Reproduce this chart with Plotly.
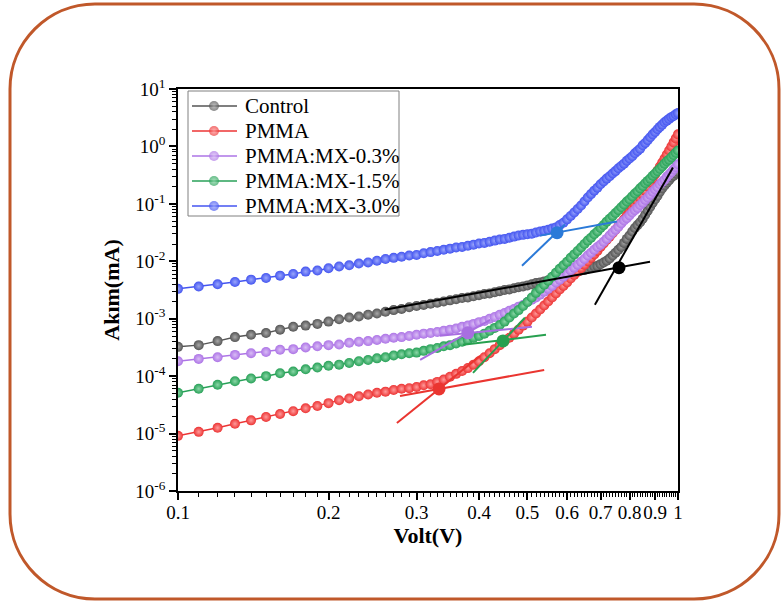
import numpy as np
import plotly.graph_objects as go

# ---------------- data ----------------
voltage = [0.10, 0.11, 0.12, 0.13, 0.14, 0.15, 0.16, 0.17, 0.18, 0.19,
           0.20, 0.21, 0.22, 0.23, 0.24, 0.25, 0.26, 0.27, 0.28, 0.29,
           0.30, 0.31, 0.32, 0.33, 0.34, 0.35, 0.36, 0.37, 0.38, 0.39,
           0.40, 0.41, 0.42, 0.43, 0.44, 0.45, 0.46, 0.47, 0.48, 0.49,
           0.50, 0.51, 0.52, 0.53, 0.54, 0.55, 0.56, 0.57, 0.58, 0.59,
           0.60, 0.61, 0.62, 0.63, 0.64, 0.65, 0.66, 0.67, 0.68, 0.69,
           0.70, 0.71, 0.72, 0.73, 0.74, 0.75, 0.76, 0.77, 0.78, 0.79,
           0.80, 0.81, 0.82, 0.83, 0.84, 0.85, 0.86, 0.87, 0.88, 0.89,
           0.90, 0.91, 0.92, 0.93, 0.94, 0.95, 0.96, 0.97, 0.98, 0.99, 1.00]

# log10 of current (mA), one value per voltage step
control_log = [-3.49, -3.46, -3.39, -3.32, -3.28, -3.25, -3.19, -3.14, -3.12, -3.09, -3.05,
               -3.01, -2.98, -2.96, -2.93, -2.91, -2.88, -2.85, -2.83, -2.80, -2.78,
               -2.76, -2.74, -2.72, -2.70, -2.68, -2.66, -2.64, -2.63, -2.61, -2.59,
               -2.57, -2.56, -2.54, -2.52, -2.50, -2.49, -2.47, -2.45, -2.44, -2.42,
               -2.40, -2.38, -2.37, -2.35, -2.33, -2.31, -2.30, -2.28, -2.26, -2.24,
               -2.23, -2.21, -2.18, -2.16, -2.15, -2.13, -2.11, -2.09, -2.08, -2.05,
               -2.02, -1.99, -1.95, -1.90, -1.85, -1.80, -1.75, -1.68, -1.61, -1.55,
               -1.48, -1.42, -1.37, -1.32, -1.26, -1.19, -1.12, -1.05, -0.98, -0.92,
               -0.86, -0.79, -0.73, -0.68, -0.63, -0.59, -0.54, -0.51, -0.47, -0.44]

pmma_log = [-5.04, -4.97, -4.90, -4.83, -4.77, -4.71, -4.66, -4.61, -4.56, -4.52, -4.47,
            -4.42, -4.39, -4.35, -4.32, -4.29, -4.27, -4.24, -4.22, -4.21, -4.19,
            -4.16, -4.14, -4.10, -4.06, -4.01, -3.96, -3.91, -3.86, -3.80, -3.74,
            -3.67, -3.60, -3.53, -3.46, -3.39, -3.33, -3.26, -3.19, -3.12, -3.05,
            -2.98, -2.91, -2.84, -2.77, -2.70, -2.63, -2.56, -2.49, -2.43, -2.37,
            -2.30, -2.24, -2.18, -2.12, -2.06, -2.00, -1.94, -1.88, -1.82, -1.75,
            -1.69, -1.63, -1.57, -1.51, -1.45, -1.39, -1.33, -1.27, -1.20, -1.14,
            -1.08, -1.02, -0.96, -0.90, -0.84, -0.77, -0.70, -0.63, -0.56, -0.49,
            -0.42, -0.35, -0.28, -0.21, -0.14, -0.07, 0.00, 0.07, 0.14, 0.21]

mx03_log = [-3.74, -3.70, -3.67, -3.63, -3.60, -3.58, -3.54, -3.53, -3.50, -3.48, -3.46,
            -3.45, -3.42, -3.40, -3.39, -3.37, -3.35, -3.33, -3.32, -3.30, -3.28,
            -3.26, -3.25, -3.23, -3.21, -3.19, -3.17, -3.14, -3.12, -3.09, -3.06,
            -3.04, -3.00, -2.97, -2.93, -2.90, -2.86, -2.83, -2.79, -2.76, -2.71,
            -2.67, -2.63, -2.58, -2.53, -2.48, -2.43, -2.37, -2.32, -2.27, -2.22,
            -2.16, -2.11, -2.06, -2.01, -1.96, -1.90, -1.85, -1.80, -1.75, -1.71,
            -1.66, -1.61, -1.55, -1.50, -1.45, -1.40, -1.34, -1.29, -1.25, -1.20,
            -1.15, -1.11, -1.07, -1.02, -0.98, -0.93, -0.89, -0.84, -0.79, -0.75,
            -0.71, -0.66, -0.62, -0.58, -0.53, -0.49, -0.45, -0.40, -0.36, -0.31]

mx15_log = [-4.29, -4.22, -4.15, -4.09, -4.04, -4.00, -3.95, -3.92, -3.88, -3.85, -3.82,
            -3.80, -3.77, -3.74, -3.72, -3.69, -3.67, -3.64, -3.62, -3.60, -3.59,
            -3.56, -3.53, -3.51, -3.48, -3.46, -3.43, -3.40, -3.37, -3.33, -3.30,
            -3.26, -3.21, -3.16, -3.11, -3.05, -2.98, -2.91, -2.85, -2.78, -2.71,
            -2.63, -2.55, -2.48, -2.41, -2.34, -2.27, -2.20, -2.13, -2.07, -2.01,
            -1.94, -1.88, -1.82, -1.76, -1.70, -1.64, -1.59, -1.53, -1.48, -1.42,
            -1.37, -1.31, -1.26, -1.21, -1.16, -1.11, -1.06, -1.01, -0.96, -0.92,
            -0.87, -0.82, -0.78, -0.73, -0.69, -0.64, -0.60, -0.56, -0.51, -0.47,
            -0.43, -0.39, -0.35, -0.30, -0.26, -0.23, -0.19, -0.15, -0.11, -0.07]

mx30_log = [-2.48, -2.44, -2.40, -2.36, -2.32, -2.29, -2.25, -2.22, -2.18, -2.16, -2.12,
            -2.09, -2.07, -2.04, -2.02, -1.99, -1.96, -1.94, -1.92, -1.90, -1.89,
            -1.86, -1.84, -1.82, -1.80, -1.78, -1.76, -1.75, -1.73, -1.71, -1.69,
            -1.68, -1.66, -1.64, -1.62, -1.61, -1.59, -1.57, -1.55, -1.54, -1.53,
            -1.52, -1.50, -1.48, -1.47, -1.45, -1.43, -1.41, -1.37, -1.33, -1.27,
            -1.21, -1.15, -1.09, -1.03, -0.96, -0.89, -0.83, -0.77, -0.72, -0.66,
            -0.61, -0.56, -0.52, -0.47, -0.43, -0.38, -0.34, -0.30, -0.25, -0.21,
            -0.17, -0.12, -0.08, -0.04, 0.02, 0.06, 0.11, 0.16, 0.21, 0.25,
            0.30, 0.34, 0.38, 0.42, 0.45, 0.48, 0.51, 0.53, 0.56, 0.58]

series_names = ["Control", "PMMA", "PMMA:MX-0.3%", "PMMA:MX-1.5%", "PMMA:MX-3.0%"]

# tangent-line fits: [V_start, V_end], [log I_start, log I_end]; knee point (V, log I)
fit_low_v = [[0.259, 0.879], [0.278, 0.540], [0.334, 0.5105], [0.3715, 0.5445], [0.530, 0.755]]
fit_low_log = [[-2.845, -2.007], [-4.346, -3.892], [-3.298, -3.141], [-3.455, -3.281], [-1.553, -1.309]]
fit_high_v = [[0.682, 0.977], [0.274, 0.402], [0.305, 0.421], [0.389, 0.494], [0.4875, 0.594]]
fit_high_log = [[-2.757, -0.366], [-4.817, -3.647], [-3.717, -3.019], [-3.944, -2.984], [-2.077, -1.361]]
knee_v = [0.762, 0.3327, 0.380, 0.4467, 0.573]
knee_log = [-2.112, -4.223, -3.246, -3.386, -1.501]

x_tick_vals = [0.1, 0.2, 0.3, 0.4, 0.5, 0.6, 0.7, 0.8, 0.9, 1.0]
x_tick_text = ["0.1", "0.2", "0.3", "0.4", "0.5", "0.6", "0.7", "0.8", "0.9", "1"]
y_tick_exp = [-6, -5, -4, -3, -2, -1, 0, 1]

# ---------------- styling ----------------
marker_colors = ["#555555", "#ec3434", "#ad74e6", "#28a158", "#4455f0"]
highlight_colors = ["#a8a8a8", "#ff9a9a", "#d9bdf5", "#8ad6a6", "#9aa6fb"]
fit_colors = ["#000000", "#ea3530", "#a86ee0", "#27a04f", "#2b7ad8"]
FONT = "Liberation Serif"

W, H = 782, 606
L, R, T, B = 178, 104, 89, 115
PW, PH = W - L - R, H - T - B


def px2paper(px, py):
    return (px - L) / PW, (H - B - py) / PH


fig = go.Figure()

all_logs = [control_log, pmma_log, mx03_log, mx15_log, mx30_log]
for name, logs, col, hl in zip(series_names, all_logs, marker_colors, highlight_colors):
    fig.add_trace(go.Scatter(
        x=voltage, y=np.power(10.0, np.array(logs)), mode="lines+markers", name=name,
        showlegend=False,
        line=dict(color=col, width=1.5),
        marker=dict(size=10, color=col, gradient=dict(type="radial", color=hl),
                    line=dict(width=0)),
    ))

for i in range(len(series_names)):
    for vs, ls in ((fit_low_v[i], fit_low_log[i]), (fit_high_v[i], fit_high_log[i])):
        fig.add_trace(go.Scatter(
            x=vs, y=np.power(10.0, np.array(ls)), mode="lines", showlegend=False,
            line=dict(color=fit_colors[i], width=2), hoverinfo="skip"))
    fig.add_trace(go.Scatter(
        x=[knee_v[i]], y=[10.0 ** knee_log[i]], mode="markers", showlegend=False,
        marker=dict(size=13, color=fit_colors[i]), hoverinfo="skip"))

# ---------------- legend (drawn on an overlay axis in paper units) ----------------
LEG_X0, LEG_X1, LEG_Y0, LEG_Y1 = 188, 399, 91, 216
LEG_ROW0, LEG_ROW_STEP = 106, 25
LEG_LINE_X0, LEG_LINE_X1, LEG_MARK_X, LEG_TEXT_X = 192, 237, 214, 243

lx0, ly0 = px2paper(LEG_X0, LEG_Y0)
lx1, ly1 = px2paper(LEG_X1, LEG_Y1)
fig.add_shape(type="rect", xref="paper", yref="paper", x0=lx0, y0=ly1, x1=lx1, y1=ly0,
              line=dict(color="#808080", width=1), fillcolor="white", layer="below")

for i, (name, col, hl) in enumerate(zip(series_names, marker_colors, highlight_colors)):
    ry = LEG_ROW0 + i * LEG_ROW_STEP
    xa, yy = px2paper(LEG_LINE_X0, ry)
    xb, _ = px2paper(LEG_LINE_X1, ry)
    xm, _ = px2paper(LEG_MARK_X, ry)
    fig.add_trace(go.Scatter(
        x=[xa, xm, xb], y=[yy, yy, yy], xaxis="x2", yaxis="y2", mode="lines+markers",
        showlegend=False, hoverinfo="skip", line=dict(color=col, width=1.5),
        marker=dict(size=[0, 10, 0], color=col, gradient=dict(type="radial", color=hl),
                    line=dict(width=0))))
    tx, _ = px2paper(LEG_TEXT_X, ry)
    fig.add_annotation(text=name, xref="paper", yref="paper", x=tx, y=yy,
                       xanchor="left", yanchor="middle", showarrow=False,
                       font=dict(family=FONT, size=21, color="black"))

# minor ticks
x_minor = [round(d * 0.01 + 0.1 * k, 2) for k in range(1, 10) for d in range(1, 10)]
y_minor = [m * 10.0 ** e for e in range(-6, 1) for m in range(2, 10)]


def rounded_rect(x0, y0, x1, y1, r):
    k = 0.5523 * r
    pts = [
        ("M", [(x0 + r, y0)]),
        ("L", [(x1 - r, y0)]),
        ("C", [(x1 - r + k, y0), (x1, y0 + r - k), (x1, y0 + r)]),
        ("L", [(x1, y1 - r)]),
        ("C", [(x1, y1 - r + k), (x1 - r + k, y1), (x1 - r, y1)]),
        ("L", [(x0 + r, y1)]),
        ("C", [(x0 + r - k, y1), (x0, y1 - r + k), (x0, y1 - r)]),
        ("L", [(x0, y0 + r)]),
        ("C", [(x0, y0 + r - k), (x0 + r - k, y0), (x0 + r, y0)]),
    ]
    s = ""
    for cmd, pp in pts:
        s += cmd + " " + " ".join("%.5f,%.5f" % px2paper(a, b) for a, b in pp) + " "
    return s + "Z"


fig.add_shape(type="path", xref="paper", yref="paper",
              path=rounded_rect(10, 4, 779, 599, 85),
              line=dict(color="#c0582a", width=3), layer="below")

axis_common = dict(
    type="log", showgrid=False, zeroline=False, showline=True, linecolor="black",
    linewidth=1.5, mirror=True, ticks="outside", ticklen=7, tickwidth=1.5,
    tickcolor="black", tickfont=dict(family=FONT, size=19, color="black"),
)

fig.update_layout(
    width=W, height=H, autosize=False,
    margin=dict(l=L, r=R, t=T, b=B, pad=0),
    paper_bgcolor="white", plot_bgcolor="white",
    font=dict(family=FONT, color="black"),
    showlegend=False,
    xaxis=dict(axis_common, range=[-1, 0], tickmode="array", tickangle=0,
               tickvals=x_tick_vals, ticktext=x_tick_text, ticklabelstandoff=-4,
               minor=dict(tickmode="array", tickvals=x_minor, ticks="outside",
                          ticklen=4, tickwidth=1, tickcolor="black", showgrid=False),
               title=dict(text="<b>Volt(V)</b>", standoff=0,
                          font=dict(family=FONT, size=22, color="black"))),
    yaxis=dict(axis_common, range=[-6, 1], tickmode="array",
               tickvals=[10.0 ** e for e in y_tick_exp],
               ticktext=["10<sup>%d</sup>" % e for e in y_tick_exp],
               minor=dict(tickmode="array", tickvals=y_minor, ticks="outside",
                          ticklen=4, tickwidth=1, tickcolor="black", showgrid=False),
               title=dict(text="<b>Akım(mA)</b>", standoff=10,
                          font=dict(family=FONT, size=22, color="black"))),
    xaxis2=dict(overlaying="x", range=[0, 1], visible=False, anchor="y2"),
    yaxis2=dict(overlaying="y", range=[0, 1], visible=False, anchor="x2"),
)

fig.write_html("out.html", config={"displayModeBar": False},
               post_script="document.body.style.margin='0';")
